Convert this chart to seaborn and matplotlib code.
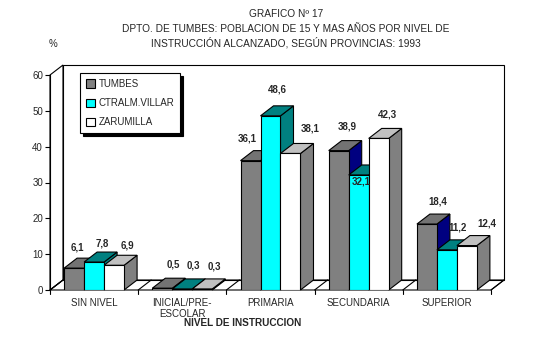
import numpy as np
import pandas as pd
import matplotlib
matplotlib.use("Agg")
import matplotlib.pyplot as plt
from matplotlib.patches import Polygon, Patch
import seaborn as sns

# ---- data ----
categories = ["SIN NIVEL", "INICIAL/PRE-\nESCOLAR", "PRIMARIA", "SECUNDARIA", "SUPERIOR"]
series_names = ["TUMBES", "CTRALM.VILLAR", "ZARUMILLA"]
tumbes = [6.1, 0.5, 36.1, 38.9, 18.4]
villar = [7.8, 0.3, 48.6, 32.1, 11.2]
zarumilla = [6.9, 0.3, 38.1, 42.3, 12.4]
y_ticks = [0, 10, 20, 30, 40, 50, 60]

title_lines = ["GRAFICO Nº 17",
               "DPTO. DE TUMBES: POBLACION DE 15 Y MAS AÑOS POR NIVEL DE",
               "INSTRUCCIÓN ALCANZADO, SEGÚN PROVINCIAS: 1993"]
x_title = "NIVEL DE INSTRUCCION"
y_title = "%"

# ---- styles ----
front_colors = ["#808080", "#00ffff", "#ffffff"]
top_colors = ["#737373", "#008080", "#c0c0c0"]
side_colors = ["#000080", "#008080", "#808080"]
# label placement (pixels right of bar centre, pixels above front top), per series
label_px = [
    [(3, 21), (11, 24), (-3, 22), (9, 24), (11, 23)],
    [(8, 19), (11, 23), (7, 26), (3, -7), (11, 22)],
    [(13, 20), (12, 22), (20, 25), (9, 24), (20, 22)],
]

sns.set_theme(style="white")
plt.rcParams["font.family"] = ["Liberation Sans", "DejaVu Sans"]

W, H = 535, 339
fig = plt.figure(figsize=(W / 100, H / 100), dpi=100)
fig.patch.set_facecolor("white")
L, R, T, B = 50, 491, 75, 290
ax = fig.add_axes([L / W, (H - B) / H, (R - L) / W, (B - T) / H])
ax.set_facecolor("none")

df = pd.DataFrame({
    "cat": np.repeat(categories, 3),
    "serie": series_names * len(categories),
    "val": np.ravel(np.column_stack([tumbes, villar, zarumilla])),
})

sns.barplot(data=df, x="cat", y="val", hue="serie", order=categories,
            hue_order=series_names, palette=front_colors, saturation=1, width=0.68,
            edgecolor="black", linewidth=0.8, ax=ax, legend=False)

ncat = len(categories)
ax.set_xlim(-0.5, ncat - 0.5)
ax.set_ylim(0, 60)

px_x = ncat / (R - L)
px_y = 60 / (B - T)
dx = 13 * px_x
dy = 10 * px_y

# back walls and floor
x0, x1 = -0.5, ncat - 0.5
wall_kw = dict(closed=True, fill=False, edgecolor="black", linewidth=0.8,
               clip_on=False, zorder=0.5)
ax.add_patch(Polygon([(x0 + dx, dy), (x1 + dx, dy), (x1 + dx, 60 + dy),
                      (x0 + dx, 60 + dy)], **wall_kw))
ax.add_patch(Polygon([(x0, 0), (x0 + dx, dy), (x0 + dx, 60 + dy), (x0, 60)], **wall_kw))
ax.add_patch(Polygon([(x0, 0), (x1, 0), (x1 + dx, dy), (x0 + dx, dy)], **wall_kw))
for k in range(ncat + 1):
    xb = x0 + k
    ax.plot([xb, xb + dx], [0, dy], color="black", lw=0.8, clip_on=False, zorder=0.6)
    ax.plot([xb, xb], [0, -1.2], color="black", lw=0.8, clip_on=False, zorder=0.6)

# 3D faces for the bars
for i, cont in enumerate(ax.containers):
    for p in cont.patches:
        bx, bw, bh = p.get_x(), p.get_width(), p.get_height()
        p.set_zorder(3 + i)
        top = [(bx, bh), (bx + bw, bh), (bx + bw + dx, bh + dy), (bx + dx, bh + dy)]
        side = [(bx + bw, 0), (bx + bw + dx, dy), (bx + bw + dx, bh + dy), (bx + bw, bh)]
        ax.add_patch(Polygon(side, closed=True, facecolor=side_colors[i],
                             edgecolor="black", lw=0.8, zorder=2.5 + i, clip_on=False))
        ax.add_patch(Polygon(top, closed=True, facecolor=top_colors[i],
                             edgecolor="black", lw=0.8, zorder=2.6 + i, clip_on=False))

# value labels
for i, vals in enumerate([tumbes, villar, zarumilla]):
    cont = ax.containers[i]
    for k, (p, v) in enumerate(zip(cont.patches, vals)):
        ox, oy = label_px[i][k]
        cx = p.get_x() + p.get_width() / 2 + ox * px_x
        cy = v + oy * px_y
        ax.text(cx, cy, f"{v:.1f}".replace(".", ","), ha="center", va="center",
                fontsize=7, fontweight="bold", zorder=10)

# axes styling
for s in ax.spines.values():
    s.set_visible(False)
ax.plot([x0, x0], [0, 60], color="black", lw=0.8, clip_on=False, zorder=1)
ax.set_yticks(y_ticks)
ax.set_yticklabels([str(t) for t in y_ticks], fontsize=7)
ax.tick_params(axis="y", direction="out", length=3.5, width=0.8, pad=1.5,
               left=True, color="black")
ax.set_xticks(range(ncat))
ax.set_xticklabels(categories, fontsize=7, linespacing=1.15)
ax.tick_params(axis="x", length=0, pad=5.5)
ax.set_xlabel("")
ax.set_ylabel("")
ax.grid(False)

# titles
for j, line in enumerate(title_lines):
    fig.text(286 / W, 1 - (14 + 14.5 * j) / H, line, ha="center", va="center",
             fontsize=7.3)
fig.text(53 / W, 1 - 44 / H, y_title, ha="center", va="center", fontsize=7)
fig.text(243 / W, 1 - 322.5 / H, x_title, ha="center", va="center", fontsize=7.2,
         fontweight="bold")

# legend
handles = [Patch(facecolor=c, edgecolor="black", lw=0.8) for c in front_colors]
leg = fig.legend(handles, series_names, loc="upper left",
                 bbox_to_anchor=(80 / W, 1 - 73 / H), fontsize=7, frameon=True,
                 fancybox=False, shadow={"color": "black", "alpha": 1},
                 handlelength=0.9, handleheight=0.9, handletextpad=0.4,
                 labelspacing=0.95, borderpad=0.6, borderaxespad=0)
leg.get_frame().set_edgecolor("black")
leg.get_frame().set_linewidth(0.8)

fig.savefig("out.png", dpi=100)
